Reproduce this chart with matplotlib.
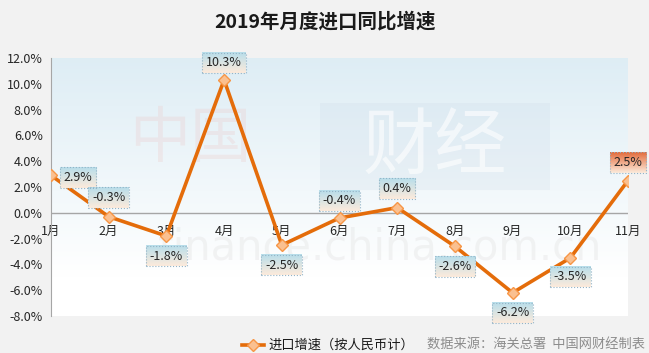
import numpy as np
import matplotlib
matplotlib.use("Agg")
import matplotlib.pyplot as plt
from matplotlib.lines import Line2D

plt.rcParams['font.family'] = ['Noto Sans CJK SC', 'DejaVu Sans']

months = ['1月', '2月', '3月', '4月', '5月', '6月', '7月', '8月', '9月', '10月', '11月']
growth = [2.9, -0.3, -1.8, 10.3, -2.5, -0.4, 0.4, -2.6, -6.2, -3.5, 2.5]
# label offsets in pixels (dx, dy) relative to the point
label_off = [(27, -2), (0, 19), (0, -20), (0, 17), (0, -20), (0, 17),
             (0, 19), (0, -20), (0, -20), (0, -19), (0, 18)]
yticks = np.arange(-8, 13, 2)

W, H = 649, 353
fig = plt.figure(figsize=(W / 100, H / 100), dpi=100)
fig.patch.set_facecolor('#f2f2f2')
ax = fig.add_axes([51 / W, 1 - 316 / H, (628 - 51) / W, (316 - 58) / H])
ax.set_xlim(0, len(months) - 1)
ax.set_ylim(-8, 12)
ax.set_facecolor('white')

# plot area gradient: light blue top -> white bottom
top = np.array([0.87, 0.93, 0.96])
bot = np.array([1.0, 1.0, 1.0])
t = np.linspace(0, 1, 256)[:, None]
t = np.clip(t / 0.85, 0, 1)
grad = top * (1 - t) + bot * t
ax.imshow(grad[:, None, :], extent=[0, 1, 0, 1], transform=ax.transAxes,
          aspect='auto', zorder=0)

# faint watermark
fx = lambda px: (px - 51) / (628 - 51)
fy = lambda py: (316 - py) / (316 - 58)
ax.add_patch(plt.Rectangle((fx(320), fy(190)), fx(550) - fx(320), fy(103) - fy(190),
                           transform=ax.transAxes, facecolor='#c9d8e6', alpha=0.22,
                           edgecolor='none', zorder=1))
ax.text(fx(435), fy(147), '财经', transform=ax.transAxes, fontsize=52,
        color='white', alpha=0.6, ha='center', va='center', zorder=1)
ax.text(fx(190), fy(140), '中国', transform=ax.transAxes, fontsize=44,
        color='#eccaca', alpha=0.3, ha='center', va='center', zorder=1)
ax.text(fx(380), fy(248), 'finance.china.com.cn', transform=ax.transAxes,
        fontsize=30, color='#e0e0e0', alpha=0.35, ha='center', va='center',
        zorder=1, family='DejaVu Sans')

for s in ['top', 'right', 'bottom']:
    ax.spines[s].set_visible(False)
ax.spines['left'].set_color('#a6a6a6')
ax.spines['left'].set_zorder(3)
ax.axhline(0, color='#a6a6a6', lw=1, zorder=2)

ax.set_yticks(yticks)
ax.set_yticklabels(['%.1f%%' % v for v in yticks], fontsize=9, color='#262626')
ax.tick_params(axis='y', length=0, pad=6)
ax.set_xticks([])

x = np.arange(len(months))
for i, m in enumerate(months):
    ax.text(x[i], -1.45, m, ha='center', va='center', fontsize=9,
            color='#262626', zorder=3)

ax.plot(x, growth, color='#e46c0a', lw=2.6, zorder=4,
        marker='D', markersize=6.5, markerfacecolor='#fac090',
        markeredgecolor='#f79646', markeredgewidth=1)

anns = []
for i, v in enumerate(growth):
    dx, dy = label_off[i]
    a = ax.annotate('%.1f%%' % v, (x[i], v), xytext=(dx, dy),
                    textcoords='offset pixels', ha='center', va='center',
                    fontsize=9, color='#262626', zorder=6,
                    bbox=dict(boxstyle='square,pad=0.3', facecolor='none',
                              edgecolor='#93b3c6', lw=0.8, linestyle=':'))
    anns.append(a)

fig.canvas.draw()
inv = ax.transData.inverted()
for i, a in enumerate(anns):
    bb = a.get_bbox_patch().get_window_extent()
    (x0, y0) = inv.transform((bb.x0, bb.y0))
    (x1, y1) = inv.transform((bb.x1, bb.y1))
    if i == len(anns) - 1:
        c_top = np.array([0.89, 0.42, 0.23])
    else:
        c_top = np.array([0.72, 0.87, 0.92])
    c_bot = np.array([0.99, 0.92, 0.86])
    tt = np.linspace(0, 1, 64)[:, None]
    g = c_top * (1 - tt) + c_bot * tt
    ax.imshow(g[:, None, :], extent=[x0, x1, y0, y1], aspect='auto',
              zorder=5, clip_on=False)
ax.set_xlim(0, len(months) - 1)
ax.set_ylim(-8, 12)

fig.text(325 / W, 1 - 22 / H, '2019年月度进口同比增速', ha='center', va='center',
         fontsize=14, fontweight='bold', color='#1a1a1a')

# legend
ly = 1 - 345 / H
fig.add_artist(Line2D([242 / W, 264 / W], [ly, ly], color='#e46c0a', lw=2.6,
                      transform=fig.transFigure))
fig.add_artist(Line2D([253 / W], [ly], marker='D', markersize=6.5,
                      markerfacecolor='#fac090', markeredgecolor='#f79646',
                      transform=fig.transFigure))
fig.text(268 / W, ly, '进口增速（按人民币计）', ha='left', va='center',
         fontsize=9.5, color='#1a1a1a')
fig.text(645 / W, ly, '数据来源：海关总署  中国网财经制表', ha='right', va='center',
         fontsize=9.5, color='#8c8c8c', style='italic')

fig.savefig('out.png', dpi=100, facecolor=fig.get_facecolor())
